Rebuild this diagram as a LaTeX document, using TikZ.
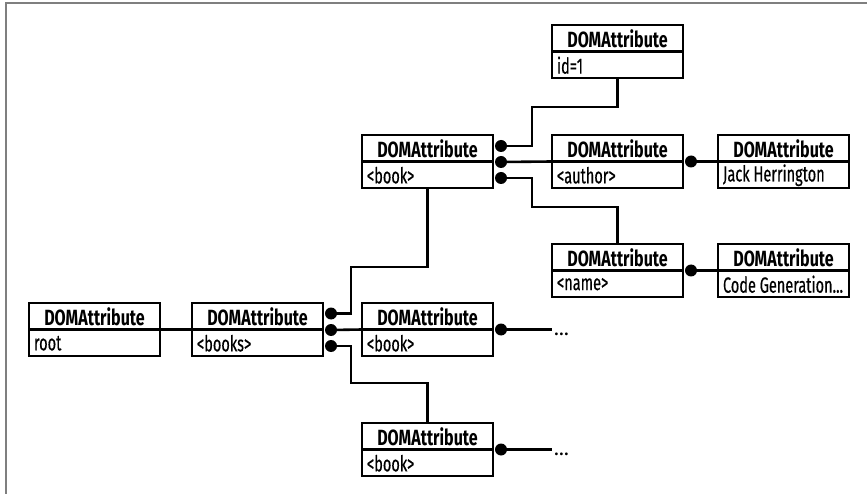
\documentclass[tikz,border=0pt]{standalone}
\usepackage{fontspec}
\setmainfont{Fira Sans}
\newfontfamily\hdrfont{Fira Sans}[FakeStretch=0.73]
\newfontfamily\bodyfont{Fira Sans}[FakeStretch=0.66, FakeBold=0.4]
\usetikzlibrary{calc}
\definecolor{framegray}{HTML}{7F7F7F}
\newcommand\dombox[4]{%
  \node[dbox] (#1) at (#2,#3) {};
  \draw[conn] (#1.west) -- (#1.east);
  \node[hdr] (#1h) at ($(#1.north)!0.5!(#1.center)+(0,0.5)$) {DOMAttribute};
  \node[bodytxt] (#1b) at ($(#1.west)!0.5!(#1.south west)+(5,0.5)$) {#4};
}
\begin{document}
\begin{tikzpicture}[x=1pt,y=-1pt,
  every node/.style={inner sep=0pt, outer sep=0pt},
  dbox/.style={draw, line width=2.6pt, minimum width=131pt, minimum height=53pt, anchor=north west},
  hdr/.style={font=\hdrfont\fontsize{22}{22}\selectfont\bfseries},
  bodytxt/.style={font=\bodyfont\fontsize{22}{22}\selectfont, anchor=west},
  moretxt/.style={font=\fontsize{20}{20}\selectfont, anchor=base west},
  conn/.style={line width=2.6pt},
  joint/.style={fill, circle, minimum size=12pt}
]
\useasboundingbox (0,0) rectangle (867,494);
\draw[framegray, line width=2pt] (5,3) -- (867,3);
\draw[framegray, line width=2pt] (6,3) -- (6,494);

\dombox{id}{552}{25}{id=1}
\dombox{bookT}{362}{135}{<book>}
\dombox{author}{552}{135}{<author>}
\dombox{jack}{718}{135}{Jack Herrington}
\dombox{name}{552}{244}{<name>}
\dombox{code}{718}{244}{Code Generation...}
\dombox{root}{29}{303}{root}
\dombox{books}{192}{303}{<books>}
\dombox{bookM}{362}{303}{<book>}
\dombox{bookB}{362}{423}{<book>}

% joints
\node[joint] (bt1) at ($(bookT.north east)+(8,11)$) {};
\node[joint] (bt2) at ($(bookT.north east)+(8,27)$) {};
\node[joint] (bt3) at ($(bookT.north east)+(8,43)$) {};
\node[joint] (bk1) at ($(books.north east)+(8,10.5)$) {};
\node[joint] (bk2) at ($(books.north east)+(8,27)$) {};
\node[joint] (bk3) at ($(books.north east)+(8,43)$) {};
\node[joint] (aj) at ($(author.east)+(8,0)$) {};
\node[joint] (nj) at ($(name.east)+(8,0)$) {};
\node[joint] (bmj) at ($(bookM.east)+(8,0)$) {};
\node[joint] (bbj) at ($(bookB.east)+(8,0)$) {};

% connectors
\draw[conn] (bt1.center) -- ++(31,0) |- ($(id.south)+(0,29)$) -- (id.south);
\draw[conn] (bt2.center) -- (author.west);
\draw[conn] (bt3.center) -- ++(31,0) |- ($(name.north)+(0,-37)$) -- (name.north);
\draw[conn] (aj.center) -- (jack.west);
\draw[conn] (nj.center) -- (code.west);
\draw[conn] (root.east) -- (books.west);
\draw[conn] (bk1.center) -- ++(20,0) |- ($(bookT.south)+(0,79)$) -- (bookT.south);
\draw[conn] (bk2.center) -- (bookM.west);
\draw[conn] (bk3.center) -- ++(20,0) |- ($(bookB.north)+(0,-40)$) -- (bookB.north);

\coordinate (m1) at ($(bmj)+(51,0)$);
\coordinate (m2) at ($(bbj)+(51,0)$);
\draw[conn] (bmj.center) -- (m1);
\draw[conn] (bbj.center) -- (m2);
\node[moretxt] (dm1) at ($(m1)+(2,6)$) {…};
\node[moretxt] (dm2) at ($(m2)+(2,6)$) {…};
\end{tikzpicture}
\end{document}
